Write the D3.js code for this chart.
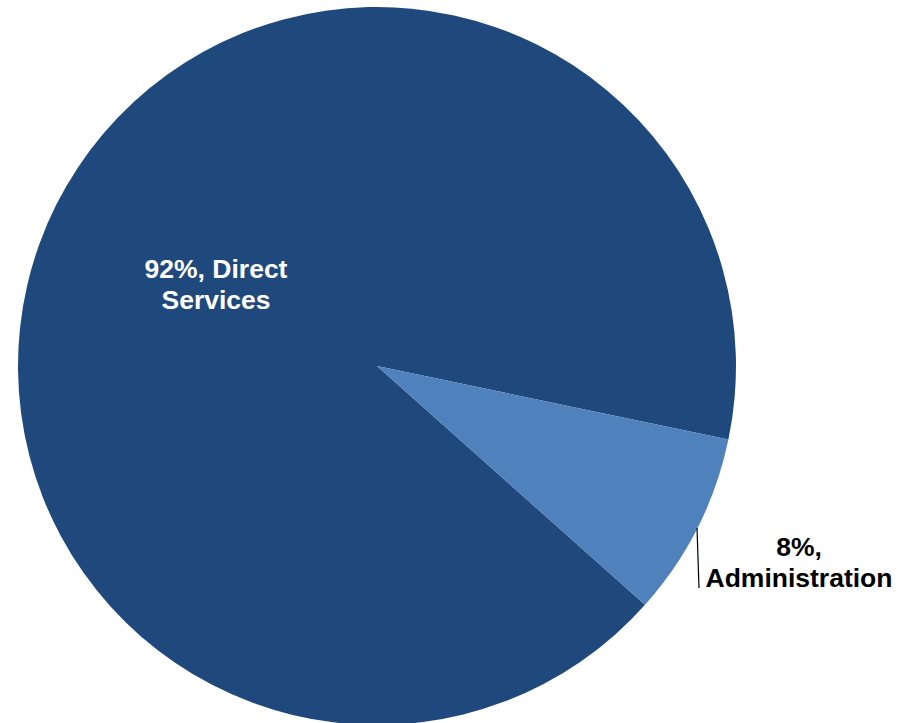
<!DOCTYPE html>
<html>
<head>
<meta charset="utf-8">
<script src="https://cdn.jsdelivr.net/npm/d3@7"></script>
<style>
  html, body { margin: 0; padding: 0; background: #ffffff; }
  svg { display: block; }
  text { font-family: "Liberation Sans", Arial, sans-serif; font-weight: bold; font-size: 26.5px; }
</style>
</head>
<body>
<svg id="chart" width="909" height="723"></svg>
<script>
const categories = ["Direct Services", "Administration"];
const values = [91.7, 8.3];
const labelPercents = ["92%", "8%"];
const colors = ["#1F497D", "#4F81BD"];

const W = 909, H = 723;
const cx = 377, cy = 366, R = 359;
const svg = d3.select("#chart");
const g = svg.append("g").attr("transform", `translate(${cx},${cy})`);

const startDeg = 131.7;
const pie = d3.pie().sort(null).value(d => d)
  .startAngle(startDeg * Math.PI / 180)
  .endAngle((startDeg + 360) * Math.PI / 180);
const arcs = pie(values);
const arc = d3.arc().innerRadius(0).outerRadius(R);

g.selectAll("path.slice").data(arcs).enter().append("path")
  .attr("class", "slice")
  .attr("d", arc)
  .attr("fill", (d, i) => colors[i]);

// Direct Services label (inside)
const ds = g.append("text").attr("fill", "#ffffff").attr("text-anchor", "middle");
ds.append("tspan").attr("x", -161).attr("y", -88).text(labelPercents[0] + ", Direct");
ds.append("tspan").attr("x", -161).attr("y", -57).text("Services");

// Administration label (outside) with leader line
g.append("line")
  .attr("x1", 320).attr("y1", 162)
  .attr("x2", 322).attr("y2", 222)
  .attr("stroke", "#000000").attr("stroke-width", 1.2);
const ad = g.append("text").attr("fill", "#000000").attr("text-anchor", "middle");
ad.append("tspan").attr("x", 422).attr("y", 190).text(labelPercents[1] + ",");
ad.append("tspan").attr("x", 422).attr("y", 221).text(categories[1]);
</script>
</body>
</html>
